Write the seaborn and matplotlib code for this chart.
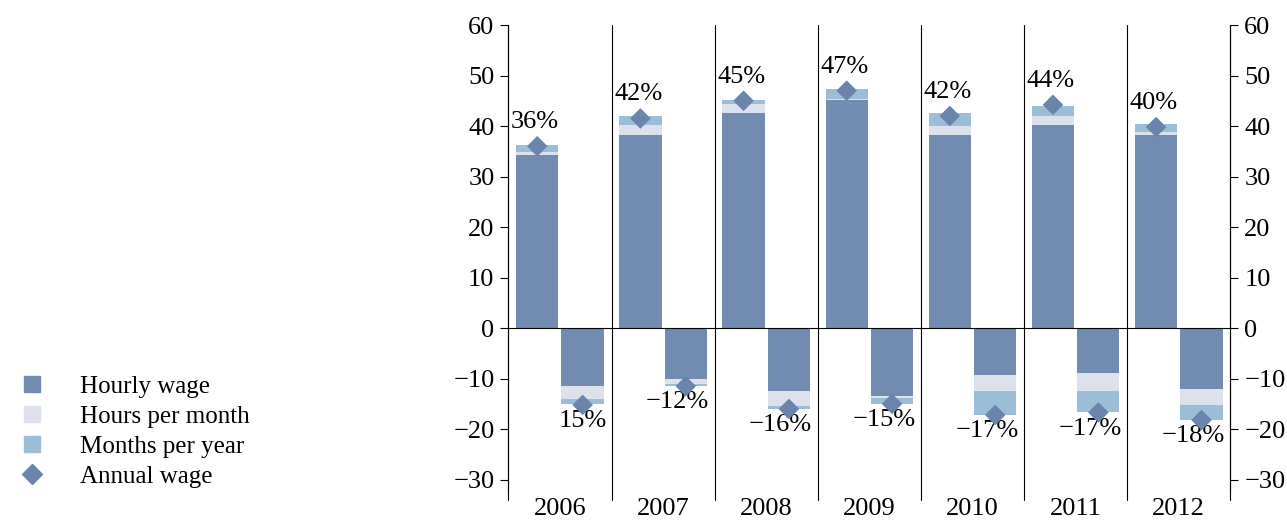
import numpy as np
import pandas as pd
import matplotlib.pyplot as plt
import seaborn as sns
from matplotlib.lines import Line2D

years = ["2006", "2007", "2008", "2009", "2010", "2011", "2012"]
# positive bars (stacked pieces)
pos_hourly = [34.2, 38.3, 42.5, 45.1, 38.3, 40.3, 38.3]
pos_hours = [0.6, 2.0, 1.8, 0.3, 1.7, 1.7, 0.6]
pos_months = [1.5, 1.7, 0.9, 1.9, 2.5, 2.0, 1.6]
pos_annual = [36.0, 41.5, 45.0, 47.0, 42.0, 44.2, 39.8]
pos_labels = ["36%", "42%", "45%", "47%", "42%", "44%", "40%"]
# negative bars
neg_hourly = [-11.5, -10.0, -12.5, -13.5, -9.3, -8.8, -12.0]
neg_hours = [-2.5, -1.0, -3.0, -0.4, -3.2, -3.7, -3.2]
neg_months = [-1.0, -0.5, -0.5, -1.2, -4.7, -4.2, -3.0]
neg_annual = [-15.2, -11.5, -16.0, -15.0, -17.2, -16.7, -18.2]
neg_labels = ["15%", "\u221212%", "\u221216%", "\u221215%", "\u221217%", "\u221217%", "\u221218%"]

c_hourly = "#728bb0"
c_hours = "#dde1ec"
c_months = "#9bbdd6"
c_diam = "#6b84ab"

sns.set_style("white")
plt.rcParams["font.family"] = ["Liberation Serif", "DejaVu Serif"]
plt.rcParams["text.color"] = "black"
plt.rcParams["xtick.color"] = "black"
plt.rcParams["ytick.color"] = "black"

fig = plt.figure(figsize=(12.87, 5.21), dpi=100)
ax = fig.add_axes([0.395, 0.06, 0.561, 0.892])

x = np.arange(len(years))
w = 0.41
xp = x - 0.22
xn = x + 0.22
kw = dict(linewidth=0)

ax.bar(xp, pos_hourly, w, color=c_hourly, **kw)
ax.bar(xp, pos_hours, w, bottom=pos_hourly, color=c_hours, **kw)
ax.bar(xp, pos_months, w, bottom=np.add(pos_hourly, pos_hours), color=c_months, **kw)
ax.bar(xn, neg_hourly, w, color=c_hourly, **kw)
ax.bar(xn, neg_hours, w, bottom=neg_hourly, color=c_hours, **kw)
ax.bar(xn, neg_months, w, bottom=np.add(neg_hourly, neg_hours), color=c_months, **kw)

df = pd.DataFrame({"x": np.concatenate([xp, xn]), "y": pos_annual + neg_annual})
sns.scatterplot(data=df, x="x", y="y", marker="D", s=110, color=c_diam,
                edgecolor="none", ax=ax, legend=False, zorder=5)

for i in range(len(years)):
    ax.text(xp[i] - 0.02, pos_annual[i] + 2.6, pos_labels[i], ha="center", va="bottom", fontsize=19)
    ax.text(xn[i] - 0.08 if i else xn[i], neg_annual[i] - 1.0, neg_labels[i], ha="center", va="top", fontsize=19)

for b in np.arange(-0.5, len(years), 1.0):
    ax.plot([b, b], [-34, 60], color="black", lw=0.8, clip_on=False)

ax.set_xlim(-0.5, len(years) - 0.5)
ax.set_ylim(-32, 60)
ax.set_yticks(range(-30, 61, 10))
ax.set_yticklabels([str(v).replace("-", "\u2212") for v in range(-30, 61, 10)], fontsize=19)
ax.set_xticks(x)
ax.set_xticklabels(years, fontsize=19)
ax.tick_params(axis="x", length=0, pad=6)
ax.tick_params(axis="y", length=6, direction="out", width=0.8, right=True, labelright=True, left=True, pad=4)
ax.axhline(0, color="black", lw=0.8)
ax.set_xlabel("")
ax.set_ylabel("")
for s in ["top", "bottom"]:
    ax.spines[s].set_visible(False)
for s in ["left", "right"]:
    ax.spines[s].set_color("black")
    ax.spines[s].set_linewidth(0.8)

handles = [
    Line2D([], [], marker="s", ls="", color=c_hourly, markersize=11),
    Line2D([], [], marker="s", ls="", color=c_hours, markersize=11),
    Line2D([], [], marker="s", ls="", color=c_months, markersize=11),
    Line2D([], [], marker="D", ls="", color=c_diam, markersize=10),
]
labels = ["Hourly wage", "Hours per month", "Months per year", "Annual wage"]
fig.legend(handles, labels, loc="lower left", bbox_to_anchor=(-0.002, 0.02), frameon=False,
           fontsize=18, handlelength=1.0, handletextpad=1.4, labelspacing=0.3)

fig.savefig("out.png", dpi=100)
